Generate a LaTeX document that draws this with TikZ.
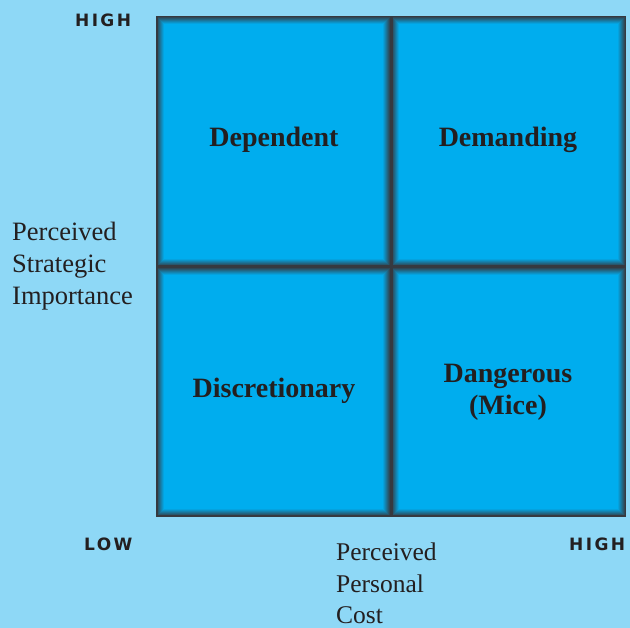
\documentclass[tikz,border=0pt]{standalone}
\usepackage{fontspec}
\setmainfont{Liberation Serif}
\newfontfamily\levelfont[LetterSpace=14]{DejaVu Sans}
\definecolor{paleblue}{HTML}{8ED8F6}
\definecolor{cellblue}{HTML}{00ADEE}
\definecolor{rimgray}{HTML}{36393F}
\definecolor{ink}{HTML}{231F20}

\begin{document}
\begin{tikzpicture}[x=1pt, y=1pt, every node/.style={text=ink, inner sep=0pt}]
  % Background
  \fill[paleblue] (0,0) rectangle (630,628);

  % Quadrants, each with a dark rim fading into the blue
  \foreach \xa/\ya/\xb/\yb in {156/361/391/612, 391/361/626/612,
                               156/111/391/361, 391/111/626/361} {
     \fill[rimgray] (\xa,\ya) rectangle (\xb,\yb);
     \foreach \k in {1,...,8} {
        \pgfmathtruncatemacro{\mix}{min(100,\k*13)}
        \fill[cellblue!\mix!rimgray]
          ({\xa+0.6+\k*0.9},{\ya+0.6+\k*0.9}) rectangle ({\xb-0.6-\k*0.9},{\yb-0.6-\k*0.9});
     }
  }

  % Quadrant names
  \node[font=\fontsize{28}{32}\selectfont\bfseries, anchor=base] (dependent) at (274,481) {Dependent};
  \node[font=\fontsize{28}{32}\selectfont\bfseries, anchor=base] (demanding) at (508,481) {Demanding};
  \node[font=\fontsize{28}{32}\selectfont\bfseries, anchor=base] (discretionary) at (274,230) {Discretionary};
  \node[font=\fontsize{28}{32}\selectfont\bfseries, align=center] (dangerous) at (508,236) {Dangerous\\(Mice)};

  % Axis ends
  \node[font=\levelfont\fontsize{17}{19}\selectfont\bfseries, anchor=base west] (imphigh) at (75,601) {HIGH};
  \node[font=\levelfont\fontsize{17}{19}\selectfont\bfseries, anchor=base west] (costlow) at (84,77) {LOW};
  \node[font=\levelfont\fontsize{17}{19}\selectfont\bfseries, anchor=base west] (costhigh) at (569,77) {HIGH};

  % Axis titles
  \node[font=\fontsize{26.5}{32}\selectfont, align=left, anchor=north west] (importance) at (12,406)
    {Perceived\\Strategic\\Importance};
  \node[font=\fontsize{25.5}{31.5}\selectfont, align=left, anchor=north west] (cost) at (336,85)
    {Perceived\\Personal\\Cost};
\end{tikzpicture}
\end{document}
